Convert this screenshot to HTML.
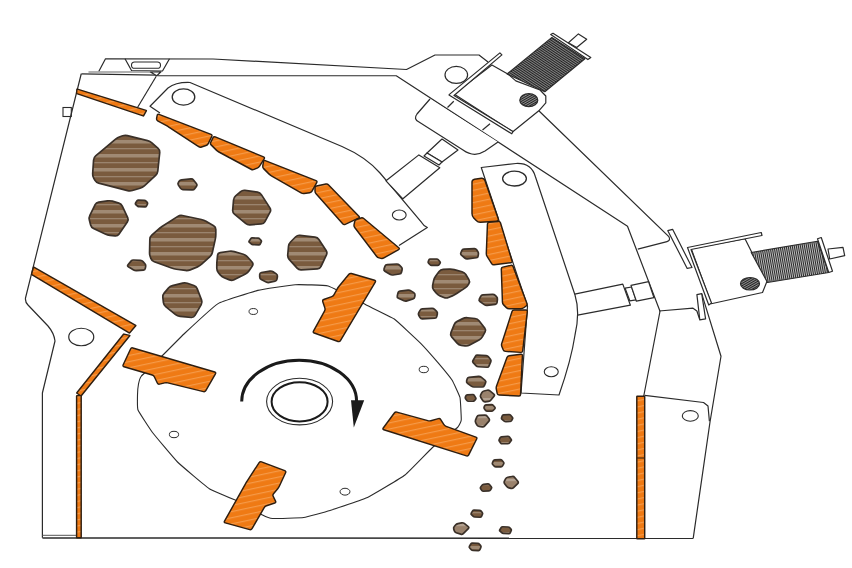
<!DOCTYPE html>
<html><head><meta charset="utf-8"><style>html,body{margin:0;padding:0;background:#fff;width:852px;height:568px;overflow:hidden;font-family:"Liberation Sans",sans-serif}svg{display:block}</style></head>
<body>
<svg width="852" height="568" viewBox="0 0 852 568">
<defs>
<pattern id="rock" patternUnits="userSpaceOnUse" width="40" height="14">
<rect width="40" height="14" fill="#7a5b3e"/>
<rect y="0" width="40" height="3.5" fill="#a08a74"/>
<rect y="8" width="40" height="1.3" fill="#9a846e"/>
</pattern>
<pattern id="rockl" patternUnits="userSpaceOnUse" width="40" height="9">
<rect width="40" height="9" fill="#9a826c"/>
<rect y="2" width="40" height="2.2" fill="#b3a190"/>
</pattern>
<pattern id="org" patternUnits="userSpaceOnUse" width="30" height="6" patternTransform="rotate(-12)">
<rect width="30" height="6" fill="#ef7a14"/>
<rect y="2" width="30" height="1.2" fill="#f59a48"/>
</pattern>
<pattern id="hatch" patternUnits="userSpaceOnUse" width="2" height="2" patternTransform="rotate(-30)">
<rect width="2" height="2" fill="#999"/><rect width="2" height="1.1" fill="#222"/>
</pattern>
<pattern id="thread" patternUnits="userSpaceOnUse" width="2" height="2" patternTransform="rotate(33.6)">
<rect width="2" height="2" fill="#9a9a9a"/><rect width="2" height="1.2" fill="#222"/>
</pattern>
<pattern id="thread2" patternUnits="userSpaceOnUse" width="2" height="2" patternTransform="rotate(80)">
<rect width="2" height="2" fill="#bbb"/><rect width="2" height="1" fill="#2a2a2a"/>
</pattern>
</defs>
<rect width="852" height="568" fill="#fff"/>
<polyline points="98.75,71.5 105.5,58.75 213,59 406.5,69.5 435,55 479,55 488,62" fill="none" stroke="#2b2b2b" stroke-width="1.2" stroke-linejoin="round"/>
<polyline points="125,58.75 131.5,70.5 162.5,71 169.5,58.75" fill="none" stroke="#2b2b2b" stroke-width="1.2" stroke-linejoin="round"/>
<rect x="131.5" y="62" width="29" height="6.3" rx="3.15" fill="none" stroke="#2b2b2b" stroke-width="1.1"/>
<polyline points="88.5,72 150.4,72" fill="none" stroke="#999" stroke-width="1.6" stroke-linejoin="round"/>
<polyline points="81.4,73.9 156.8,75.2" fill="none" stroke="#2b2b2b" stroke-width="1.2" stroke-linejoin="round"/>
<polygon points="150.4,72 161,71.8 156.8,75.7" fill="#fff" stroke="#2b2b2b" stroke-width="1.2" stroke-linejoin="round"/>
<polyline points="157.5,75.75 396.25,75.75 627.5,226.25 660,311.25 643.75,396" fill="none" stroke="#2b2b2b" stroke-width="1.2" stroke-linejoin="round"/>
<polyline points="156.25,76.25 137.5,107.5" fill="none" stroke="#2b2b2b" stroke-width="1.2" stroke-linejoin="round"/>
<rect x="63" y="107.5" width="8.3" height="9" fill="#fff" stroke="#2b2b2b" stroke-width="1.1"/>
<path d="M81.25,73.75 L25.5,298 Q25,302 28,305 L48,326 Q54,333 55,341 L42.4,393 L42.4,537.8 M693.2,538.3 L710,422 L721,356.25 L701.7,293.6" fill="none" stroke="#2b2b2b" stroke-width="1.2" stroke-linejoin="round"/>
<polyline points="42.4,535.3 76.6,535.3" fill="none" stroke="#555" stroke-width="1" stroke-linejoin="round"/>
<polyline points="42.4,538 693.2,538.3" fill="none" stroke="#2b2b2b" stroke-width="1.5" stroke-linejoin="round"/>
<ellipse cx="81.25" cy="337" rx="12.5" ry="8.75" fill="none" stroke="#2b2b2b" stroke-width="1.2"/>
<path d="M538.8,110.8 L668.8,236.5 Q671,240.5 667,241.6 L637.8,249.1" fill="none" stroke="#2b2b2b" stroke-width="1.2"/>
<polyline points="659,311 693,308.2 696.9,311 699.8,319.8" fill="none" stroke="#2b2b2b" stroke-width="1.2" stroke-linejoin="round"/>
<polyline points="644.7,395.3 703.5,402.5 708,406 709.4,421.2" fill="none" stroke="#2b2b2b" stroke-width="1.2" stroke-linejoin="round"/>
<ellipse cx="690.3" cy="415.9" rx="8" ry="5.3" fill="none" stroke="#2b2b2b" stroke-width="1.1"/>
<path d="M150,106.25 L168,88 Q176,82 190,82.5 L342,146.5 Q366,157 380,173 L421.8,222.7 Q423,225 427.3,227.6 L399,245.5 L362.5,217.5 L327.5,183.75 L265,157.5 L212.5,135 L160,113 Z" fill="#fff" stroke="none"/>
<path d="M160,113 L150,106.25 L168,88 Q176,82 190,82.5 L342,146.5 Q366,157 380,173 L421.8,222.7 Q423,225 427.3,227.6 L399,245.5" fill="none" stroke="#2b2b2b" stroke-width="1.2" stroke-linejoin="round"/>
<ellipse cx="183.5" cy="97" rx="11.3" ry="8.1" fill="none" stroke="#2b2b2b" stroke-width="1.3"/>
<ellipse cx="399.25" cy="215" rx="6.9" ry="5" fill="none" stroke="#2b2b2b" stroke-width="1.1"/>
<path d="M430,99 L417,114 Q413,119 419,122 L463,150 Q474,158 485,151 L498,142" fill="#fff" stroke="#2b2b2b" stroke-width="1.2"/>
<polygon points="427,153 442,139 458,150 442,162" fill="#fff" stroke="#2b2b2b" stroke-width="1.2" stroke-linejoin="round"/>
<polygon points="424,156 427,153 442,162 439,165" fill="#fff" stroke="#2b2b2b" stroke-width="1.2" stroke-linejoin="round"/>
<polygon points="418.9,154.9 439.8,167.8 402.9,198.8 386,180.8" fill="#fff" stroke="#2b2b2b" stroke-width="1.2" stroke-linejoin="round"/>
<path d="M481.25,167.5 L516,163.5 C526,163 533,168 535.5,177 L575,295 C579,308 578,322 575,335 C572,355 566,375 559,395 L521,393 L527.5,306.25 Z" fill="#fff" stroke="#2b2b2b" stroke-width="1.2" stroke-linejoin="round"/>
<ellipse cx="514.5" cy="178.6" rx="11.9" ry="7.4" fill="none" stroke="#2b2b2b" stroke-width="1.3"/>
<ellipse cx="551.25" cy="371.75" rx="7" ry="5" fill="none" stroke="#2b2b2b" stroke-width="1.1"/>
<polyline points="574.7,294.1 622.8,284.1 630.4,305.2 577.6,315.2" fill="none" stroke="#2b2b2b" stroke-width="1.2" stroke-linejoin="round"/>
<polygon points="625.1,288.2 631.6,287 636,299.8 629.8,300.8" fill="none" stroke="#2b2b2b" stroke-width="1.2" stroke-linejoin="round"/>
<polygon points="631,285.4 648.6,281.7 653.9,297.6 636.4,301.2" fill="#fff" stroke="#2b2b2b" stroke-width="1.2" stroke-linejoin="round"/>
<polyline points="447.5,107.5 453.75,101.25" fill="none" stroke="#2b2b2b" stroke-width="1.2" stroke-linejoin="round"/>
<polyline points="482.5,130 490,123.75" fill="none" stroke="#2b2b2b" stroke-width="1.2" stroke-linejoin="round"/>
<ellipse cx="456.3" cy="74.9" rx="11.3" ry="8.5" fill="none" stroke="#2b2b2b" stroke-width="1.2"/>
<polygon points="454,93.9 491.9,64.9 507.8,73.9 515.8,80.9 540,90 545.8,96 545.8,102.8 538.8,110.8 512.8,131.8" fill="#fff" stroke="#2b2b2b" stroke-width="1.2" stroke-linejoin="round"/>
<polygon points="450,93.9 499.9,52.9 501.9,54.9 454,95.5 513,131.5 511.8,133.8 449,94.9" fill="#fff" stroke="#2b2b2b" stroke-width="1.2" stroke-linejoin="round"/>
<ellipse cx="528.8" cy="100.2" rx="9" ry="6.5" fill="url(#hatch)" stroke="#2b2b2b" stroke-width="1.2"/>
<polygon points="507.1,74 551.9,37.4 584.9,58.7 544.8,91.7" fill="url(#thread)" stroke="#2b2b2b" stroke-width="1.2" stroke-linejoin="round"/>
<polygon points="550.7,34.5 553,33.3 590.8,57.5 587.9,59.6" fill="#fff" stroke="#2b2b2b" stroke-width="1.2" stroke-linejoin="round"/>
<polygon points="568.4,42.7 578.4,33.9 586.7,39.2 576.7,47.5" fill="#fff" stroke="#2b2b2b" stroke-width="1.2" stroke-linejoin="round"/>
<polygon points="667.8,230.7 672.6,229.3 692,267.5 687.2,268.4" fill="#fff" stroke="#2b2b2b" stroke-width="1.2" stroke-linejoin="round"/>
<polygon points="696.9,294.6 701.7,293.6 705.6,318.8 699.8,319.8" fill="#fff" stroke="#2b2b2b" stroke-width="1.2" stroke-linejoin="round"/>
<polygon points="691.25,248.75 745,238.75 752.5,253.75 765,272 767.5,280 762.5,292.5 711.25,303.75" fill="#fff" stroke="#2b2b2b" stroke-width="1.2" stroke-linejoin="round"/>
<polygon points="687.5,247.5 761.25,232.5 762,235.5 691,249.5 711.5,303 708.75,305" fill="#fff" stroke="#2b2b2b" stroke-width="1.2" stroke-linejoin="round"/>
<ellipse cx="750" cy="283.75" rx="9.5" ry="6.25" fill="url(#hatch)" stroke="#2b2b2b" stroke-width="1.2"/>
<polygon points="751.25,252.5 817.5,241.25 828.75,272.5 767.5,282.5" fill="url(#thread2)" stroke="#2b2b2b" stroke-width="1.2" stroke-linejoin="round"/>
<polygon points="817.5,238.75 821.25,237.5 832.5,271.25 828.75,272.5" fill="#fff" stroke="#2b2b2b" stroke-width="1.2" stroke-linejoin="round"/>
<polygon points="828,249 843,247.3 844.7,255.7 829.7,259" fill="#fff" stroke="#2b2b2b" stroke-width="1.2" stroke-linejoin="round"/>
<path d="M137.50,395.00 C137.53,393.70 138.31,384.94 138.50,384.00 C138.69,383.06 140.18,377.55 141.25,376.25 C142.32,374.95 157.81,360.16 160.00,358.00 C162.19,355.84 182.09,335.72 185.00,333.00 C187.91,330.28 214.46,305.73 218.10,303.60 C221.74,301.47 253.95,291.34 257.80,290.40 C261.66,289.45 291.68,284.92 295.20,284.70 C298.72,284.48 324.56,284.94 328.20,286.00 C331.83,287.06 364.59,304.15 367.90,305.80 C371.20,307.45 391.66,317.12 394.30,319.00 C396.94,320.88 418.50,341.10 420.70,343.30 C422.90,345.50 436.83,361.27 438.40,363.10 C439.96,364.94 450.92,378.28 452.00,380.00 C453.08,381.72 459.54,395.50 460.00,397.50 C460.46,399.50 461.38,418.50 461.25,420.00 C461.12,421.50 458.94,426.12 457.50,427.50 C456.06,428.88 435.12,445.12 432.50,447.50 C429.88,449.88 408.25,472.50 405.00,475.00 C401.75,477.50 371.25,495.73 367.50,497.50 C363.75,499.27 333.19,509.50 330.00,510.50 C326.81,511.50 306.62,517.10 303.75,517.50 C300.88,517.90 274.56,518.62 272.50,518.50 C270.44,518.38 263.90,515.72 262.50,515.00 C261.10,514.28 247.16,505.42 244.50,504.10 C241.84,502.79 212.65,490.81 209.30,488.70 C205.95,486.59 180.34,464.81 177.50,462.00 C174.66,459.19 154.47,435.10 152.50,432.50 C150.53,429.90 138.75,411.88 138.00,410.00 C137.25,408.12 137.47,396.30 137.50,395.00 Z" fill="#fff" stroke="#2b2b2b" stroke-width="1.1"/>
<ellipse cx="253.3" cy="311.5" rx="4.255" ry="2.9600000000000004" fill="none" stroke="#2b2b2b" stroke-width="1"/>
<ellipse cx="174" cy="434.5" rx="4.6" ry="3.2" fill="none" stroke="#2b2b2b" stroke-width="1"/>
<ellipse cx="345" cy="491.7" rx="4.944999999999999" ry="3.44" fill="none" stroke="#2b2b2b" stroke-width="1"/>
<ellipse cx="423.8" cy="369.5" rx="4.6" ry="3.2" fill="none" stroke="#2b2b2b" stroke-width="1"/>
<ellipse cx="299.6" cy="401.6" rx="33" ry="23.3" fill="none" stroke="#2b2b2b" stroke-width="1.1"/>
<ellipse cx="299.6" cy="401.8" rx="28" ry="19.6" fill="none" stroke="#1a1a1a" stroke-width="2"/>
<path d="M241.7,401.5 A57.45,41.3 0 0 1 356.6,401.5" fill="none" stroke="#1a1a1a" stroke-width="3"/>
<polygon points="351,400.3 364.2,400.3 353.8,427.6" fill="#1a1a1a"/>
<path d="M77.38,89.12 L146.12,110.38 Q146.50,110.50 146.31,110.85 L143.69,115.65 Q143.50,116.00 143.12,115.87 L76.88,93.63 Q76.50,93.50 76.54,93.10 L76.96,89.40 Q77.00,89.00 77.38,89.12 Z" fill="url(#org)" stroke="#2e1e10" stroke-width="1.45"/>
<path d="M33.85,267.20 L135.65,325.30 Q136.00,325.50 135.74,325.80 L129.76,332.70 Q129.50,333.00 129.16,332.79 L31.84,274.71 Q31.50,274.50 31.60,274.11 L33.40,267.39 Q33.50,267.00 33.85,267.20 Z" fill="url(#org)" stroke="#2e1e10" stroke-width="1.45"/>
<path d="M124.14,334.09 L129.61,335.41 Q130.00,335.50 129.75,335.81 L81.25,395.69 Q81.00,396.00 80.67,395.77 L76.93,393.23 Q76.60,393.00 76.85,392.69 L123.50,334.31 Q123.75,334.00 124.14,334.09 Z" fill="url(#org)" stroke="#2e1e10" stroke-width="1.45"/>
<path d="M77.00,395.60 L80.80,395.60 Q81.20,395.60 81.20,396.00 L81.20,537.40 Q81.20,537.80 80.80,537.80 L77.00,537.80 Q76.60,537.80 76.60,537.40 L76.60,396.00 Q76.60,395.60 77.00,395.60 Z" fill="url(#org)" stroke="#2e1e10" stroke-width="1.45"/>
<path d="M637.20,396.20 L644.30,396.20 Q644.70,396.20 644.70,396.60 L644.70,538.40 Q644.70,538.80 644.30,538.80 L637.20,538.80 Q636.80,538.80 636.80,538.40 L636.80,396.60 Q636.80,396.20 637.20,396.20 Z" fill="url(#org)" stroke="#2e1e10" stroke-width="1.45"/>
<path d="M158.99,114.33 L211.01,134.42 Q212.50,135.00 211.78,136.43 L208.22,143.57 Q207.50,145.00 205.98,145.51 L201.52,146.99 Q200.00,147.50 198.66,146.62 L168.84,127.13 Q167.50,126.25 166.10,125.47 L157.65,120.78 Q156.25,120.00 156.56,118.43 L157.19,115.32 Q157.50,113.75 158.99,114.33 Z" fill="url(#org)" stroke="#2e1e10" stroke-width="1.45"/>
<path d="M215.23,136.86 L263.52,156.89 Q265.00,157.50 264.15,158.86 L259.60,166.14 Q258.75,167.50 257.26,168.09 L253.99,169.41 Q252.50,170.00 251.09,169.24 L218.91,152.01 Q217.50,151.25 216.37,150.12 L211.13,144.88 Q210.00,143.75 210.72,142.32 L213.03,137.68 Q213.75,136.25 215.23,136.86 Z" fill="url(#org)" stroke="#2e1e10" stroke-width="1.45"/>
<path d="M265.24,160.59 L316.01,180.66 Q317.50,181.25 316.72,182.65 L312.03,191.10 Q311.25,192.50 309.67,192.73 L304.08,193.52 Q302.50,193.75 301.11,192.95 L271.39,175.80 Q270.00,175.00 268.87,173.87 L263.63,168.63 Q262.50,167.50 262.76,165.92 L263.49,161.58 Q263.75,160.00 265.24,160.59 Z" fill="url(#org)" stroke="#2e1e10" stroke-width="1.45"/>
<path d="M316.57,185.94 L325.93,184.06 Q327.50,183.75 328.61,184.90 L358.89,216.35 Q360.00,217.50 358.55,218.17 L345.20,224.33 Q343.75,225.00 342.69,223.80 L316.06,193.70 Q315.00,192.50 315.00,190.90 L315.00,187.85 Q315.00,186.25 316.57,185.94 Z" fill="url(#org)" stroke="#2e1e10" stroke-width="1.45"/>
<path d="M356.52,219.49 L360.98,218.01 Q362.50,217.50 363.73,218.52 L398.77,247.73 Q400.00,248.75 398.61,249.54 L383.89,257.96 Q382.50,258.75 380.95,258.36 L379.05,257.89 Q377.50,257.50 376.53,256.23 L354.72,227.52 Q353.75,226.25 354.06,224.68 L354.69,221.57 Q355.00,220.00 356.52,219.49 Z" fill="url(#org)" stroke="#2e1e10" stroke-width="1.45"/>
<path d="M474.58,179.16 L481.42,178.24 Q484.00,177.90 484.85,180.36 L498.15,218.54 Q499.00,221.00 496.41,221.19 L480.59,222.31 Q478.00,222.50 476.24,220.59 L473.76,217.91 Q472.00,216.00 472.00,213.40 L472.00,182.10 Q472.00,179.50 474.58,179.16 Z" fill="url(#org)" stroke="#2e1e10" stroke-width="1.45"/>
<path d="M489.09,222.34 L498.41,221.41 Q500.00,221.25 500.46,222.78 L512.04,260.97 Q512.50,262.50 510.91,262.70 L494.09,264.80 Q492.50,265.00 491.65,263.64 L487.10,256.36 Q486.25,255.00 486.31,253.40 L487.44,224.10 Q487.50,222.50 489.09,222.34 Z" fill="url(#org)" stroke="#2e1e10" stroke-width="1.45"/>
<path d="M502.81,267.15 L510.94,265.35 Q512.50,265.00 513.06,266.50 L526.94,303.50 Q527.50,305.00 526.22,305.96 L523.78,307.79 Q522.50,308.75 520.90,308.75 L509.10,308.75 Q507.50,308.75 506.37,307.62 L503.63,304.88 Q502.50,303.75 502.44,302.15 L501.31,269.10 Q501.25,267.50 502.81,267.15 Z" fill="url(#org)" stroke="#2e1e10" stroke-width="1.45"/>
<path d="M514.10,310.00 L525.90,310.00 Q527.50,310.00 527.31,311.59 L522.69,350.91 Q522.50,352.50 520.90,352.39 L505.35,351.36 Q503.75,351.25 503.16,349.76 L501.84,346.49 Q501.25,345.00 501.74,343.48 L512.01,311.52 Q512.50,310.00 514.10,310.00 Z" fill="url(#org)" stroke="#2e1e10" stroke-width="1.45"/>
<path d="M509.09,355.79 L520.91,354.21 Q522.50,354.00 522.42,355.60 L520.58,394.40 Q520.50,396.00 518.90,395.93 L499.10,395.07 Q497.50,395.00 497.19,393.43 L496.31,389.07 Q496.00,387.50 496.55,386.00 L506.95,357.50 Q507.50,356.00 509.09,355.79 Z" fill="url(#org)" stroke="#2e1e10" stroke-width="1.45"/>
<path d="M351.44,273.55 L374.56,280.25 Q376.10,280.70 375.28,282.07 L340.42,340.63 Q339.60,342.00 338.09,341.47 L314.21,333.03 Q312.70,332.50 313.47,331.10 L324.63,310.90 Q325.40,309.50 324.89,307.98 L322.71,301.52 Q322.20,300.00 323.71,299.47 L331.79,296.63 Q333.30,296.10 334.06,294.69 L337.24,288.81 Q338.00,287.40 339.02,286.17 L348.88,274.33 Q349.90,273.10 351.44,273.55 Z" fill="url(#org)" stroke="#2e1e10" stroke-width="1.45"/>
<path d="M132.78,347.95 L214.72,372.05 Q216.25,372.50 215.45,373.89 L205.80,390.61 Q205.00,392.00 203.45,391.62 L167.80,382.88 Q166.25,382.50 164.70,382.88 L159.55,384.12 Q158.00,384.50 157.32,383.05 L154.43,376.95 Q153.75,375.50 152.22,375.05 L124.03,366.70 Q122.50,366.25 123.18,364.80 L130.57,348.95 Q131.25,347.50 132.78,347.95 Z" fill="url(#org)" stroke="#2e1e10" stroke-width="1.45"/>
<path d="M383.25,428.01 L394.35,412.99 Q395.30,411.70 396.84,412.13 L427.76,420.67 Q429.30,421.10 430.84,420.68 L438.36,418.62 Q439.90,418.20 440.74,419.56 L443.76,424.44 Q444.60,425.80 446.11,426.34 L475.89,437.06 Q477.40,437.60 476.68,439.03 L468.72,454.87 Q468.00,456.30 466.47,455.82 L383.83,429.78 Q382.30,429.30 383.25,428.01 Z" fill="url(#org)" stroke="#2e1e10" stroke-width="1.45"/>
<path d="M261.50,461.82 L284.75,470.68 Q286.25,471.25 285.58,472.70 L279.42,486.05 Q278.75,487.50 277.73,488.73 L273.52,493.77 Q272.50,495.00 273.22,496.43 L275.53,501.07 Q276.25,502.50 274.73,503.01 L266.52,505.74 Q265.00,506.25 264.20,507.63 L252.05,528.62 Q251.25,530.00 249.71,529.58 L225.29,522.92 Q223.75,522.50 224.53,521.11 L245.47,483.89 Q246.25,482.50 247.12,481.16 L259.13,462.59 Q260.00,461.25 261.50,461.82 Z" fill="url(#org)" stroke="#2e1e10" stroke-width="1.45"/>
<line x1="636.8" y1="458" x2="644.7" y2="458" stroke="#3a2410" stroke-width="1.1"/>
<path d="M119.87,136.71 L122.63,135.79 Q125.00,135.00 127.43,135.61 L147.57,140.64 Q150.00,141.25 151.88,142.90 L158.12,148.35 Q160.00,150.00 159.74,152.49 L157.76,171.26 Q157.50,173.75 155.66,175.44 L144.34,185.81 Q142.50,187.50 140.11,188.22 L132.39,190.53 Q130.00,191.25 127.58,190.62 L98.67,183.13 Q96.25,182.50 94.96,180.36 L93.79,178.39 Q92.50,176.25 92.67,173.76 L93.58,159.99 Q93.75,157.50 95.66,155.89 L115.59,139.11 Q117.50,137.50 119.87,136.71 Z" fill="url(#rock)" stroke="#3a3028" stroke-width="1.7"/>
<path d="M181.60,179.84 L190.90,178.91 Q192.50,178.75 193.50,180.00 L196.50,183.75 Q197.50,185.00 196.54,186.29 L194.71,188.71 Q193.75,190.00 192.14,189.94 L182.86,189.56 Q181.25,189.50 180.37,188.15 L178.38,185.10 Q177.50,183.75 178.39,182.41 L179.11,181.34 Q180.00,180.00 181.60,179.84 Z" fill="url(#rock)" stroke="#3a3028" stroke-width="1.7"/>
<path d="M138.58,200.05 L144.32,200.30 Q145.32,200.35 146.00,201.09 L147.22,202.41 Q147.90,203.15 147.45,204.04 L146.41,206.11 Q145.97,207.00 144.97,206.95 L139.22,206.70 Q138.22,206.65 137.47,205.99 L135.76,204.51 Q135.00,203.85 135.56,203.02 L137.02,200.83 Q137.58,200.00 138.58,200.05 Z" fill="url(#rock)" stroke="#3a3028" stroke-width="1.7"/>
<path d="M98.72,202.14 L107.53,200.86 Q110.00,200.50 112.40,201.19 L118.85,203.06 Q121.25,203.75 122.30,206.02 L127.70,217.73 Q128.75,220.00 127.33,222.06 L118.92,234.19 Q117.50,236.25 115.02,235.94 L109.98,235.31 Q107.50,235.00 105.23,233.95 L93.52,228.55 Q91.25,227.50 90.64,225.07 L89.36,219.93 Q88.75,217.50 89.87,215.26 L95.13,204.74 Q96.25,202.50 98.72,202.14 Z" fill="url(#rock)" stroke="#3a3028" stroke-width="1.7"/>
<path d="M182.35,215.51 L201.35,219.49 Q203.80,220.00 205.97,221.25 L213.63,225.65 Q215.80,226.90 215.80,229.40 L215.80,234.40 Q215.80,236.90 215.26,239.34 L212.34,252.46 Q211.80,254.90 209.96,256.59 L201.64,264.21 Q199.80,265.90 197.49,266.85 L190.21,269.85 Q187.90,270.80 185.42,270.46 L176.38,269.24 Q173.90,268.90 171.55,268.05 L154.25,261.75 Q151.90,260.90 150.97,258.58 L150.43,257.22 Q149.50,254.90 149.56,252.40 L149.84,239.40 Q149.90,236.90 151.76,235.23 L158.04,229.57 Q159.90,227.90 162.00,226.54 L177.80,216.36 Q179.90,215.00 182.35,215.51 Z" fill="url(#rock)" stroke="#3a3028" stroke-width="1.7"/>
<path d="M244.97,190.35 L257.53,192.15 Q260.00,192.50 261.35,194.60 L269.90,207.90 Q271.25,210.00 270.05,212.19 L264.95,221.56 Q263.75,223.75 261.26,223.94 L249.99,224.81 Q247.50,225.00 245.58,223.40 L234.42,214.10 Q232.50,212.50 232.71,210.01 L233.54,199.99 Q233.75,197.50 235.65,195.87 L240.60,191.63 Q242.50,190.00 244.97,190.35 Z" fill="url(#rock)" stroke="#3a3028" stroke-width="1.7"/>
<path d="M252.30,237.94 L258.10,238.21 Q259.10,238.25 259.78,238.98 L261.02,240.32 Q261.70,241.05 261.25,241.94 L260.20,244.01 Q259.75,244.90 258.75,244.86 L252.95,244.59 Q251.95,244.55 251.19,243.90 L249.46,242.40 Q248.70,241.75 249.26,240.92 L250.74,238.73 Q251.30,237.90 252.30,237.94 Z" fill="url(#rock)" stroke="#3a3028" stroke-width="1.7"/>
<path d="M172.43,285.64 L182.57,283.11 Q185.00,282.50 187.37,283.29 L193.88,285.46 Q196.25,286.25 197.15,288.58 L201.60,300.17 Q202.50,302.50 201.24,304.66 L195.01,315.34 Q193.75,317.50 191.26,317.31 L179.99,316.44 Q177.50,316.25 175.57,314.67 L165.68,306.58 Q163.75,305.00 163.44,302.52 L162.81,297.48 Q162.50,295.00 164.13,293.10 L168.37,288.15 Q170.00,286.25 172.43,285.64 Z" fill="url(#rock)" stroke="#3a3028" stroke-width="1.7"/>
<path d="M133.55,259.99 L140.45,260.41 Q142.00,260.50 143.05,261.65 L144.95,263.75 Q146.00,264.90 145.69,266.43 L145.31,268.37 Q145.00,269.90 143.45,270.04 L136.55,270.66 Q135.00,270.80 133.67,269.99 L128.33,266.71 Q127.00,265.90 128.00,264.70 L131.00,261.10 Q132.00,259.90 133.55,259.99 Z" fill="url(#rock)" stroke="#3a3028" stroke-width="1.7"/>
<path d="M220.27,252.55 L229.33,251.25 Q231.80,250.90 234.20,251.59 L243.30,254.21 Q245.70,254.90 247.36,256.77 L252.04,262.03 Q253.70,263.90 252.30,265.97 L249.10,270.73 Q247.70,272.80 245.47,273.92 L234.03,279.68 Q231.80,280.80 229.48,279.87 L224.12,277.73 Q221.80,276.80 220.20,274.88 L218.40,272.72 Q216.80,270.80 216.80,268.30 L216.80,265.40 Q216.80,262.90 217.05,260.41 L217.55,255.39 Q217.80,252.90 220.27,252.55 Z" fill="url(#rock)" stroke="#3a3028" stroke-width="1.7"/>
<path d="M299.98,235.31 L315.02,237.19 Q317.50,237.50 318.89,239.58 L326.11,250.42 Q327.50,252.50 326.45,254.77 L321.05,266.48 Q320.00,268.75 317.50,268.90 L301.25,269.85 Q298.75,270.00 297.08,268.14 L289.17,259.36 Q287.50,257.50 287.73,255.01 L288.52,246.24 Q288.75,243.75 290.52,241.98 L295.73,236.77 Q297.50,235.00 299.98,235.31 Z" fill="url(#rock)" stroke="#3a3028" stroke-width="1.7"/>
<path d="M261.39,272.52 L270.01,271.08 Q271.70,270.80 273.13,271.75 L276.27,273.85 Q277.70,274.80 277.42,276.49 L276.98,279.11 Q276.70,280.80 275.03,281.17 L269.37,282.43 Q267.70,282.80 266.17,282.03 L261.23,279.57 Q259.70,278.80 259.70,277.09 L259.70,274.51 Q259.70,272.80 261.39,272.52 Z" fill="url(#rock)" stroke="#3a3028" stroke-width="1.7"/>
<path d="M387.21,264.51 L396.69,263.99 Q398.30,263.90 399.43,265.05 L401.37,267.05 Q402.50,268.20 402.11,269.77 L401.49,272.23 Q401.10,273.80 399.50,274.03 L392.90,274.97 Q391.30,275.20 389.93,274.34 L384.87,271.16 Q383.50,270.30 384.06,268.79 L385.04,266.11 Q385.60,264.60 387.21,264.51 Z" fill="url(#rock)" stroke="#3a3028" stroke-width="1.7"/>
<path d="M430.21,259.00 L436.79,259.00 Q437.70,259.00 438.28,259.70 L440.02,261.80 Q440.60,262.50 440.06,263.24 L439.04,264.66 Q438.50,265.40 437.59,265.40 L431.61,265.40 Q430.70,265.40 430.06,264.74 L428.54,263.16 Q427.90,262.50 428.24,261.65 L428.96,259.85 Q429.30,259.00 430.21,259.00 Z" fill="url(#rock)" stroke="#3a3028" stroke-width="1.7"/>
<path d="M463.90,249.12 L474.30,248.58 Q475.80,248.50 476.63,249.75 L477.77,251.45 Q478.60,252.70 478.39,254.18 L478.11,256.12 Q477.90,257.60 476.41,257.77 L467.39,258.83 Q465.90,259.00 464.77,258.01 L461.43,255.09 Q460.30,254.10 460.89,252.72 L461.81,250.58 Q462.40,249.20 463.90,249.12 Z" fill="url(#rock)" stroke="#3a3028" stroke-width="1.7"/>
<path d="M443.10,269.44 L449.30,269.06 Q451.80,268.90 454.21,269.56 L462.09,271.74 Q464.50,272.40 465.81,274.53 L468.79,279.37 Q470.10,281.50 468.88,283.68 L468.52,284.32 Q467.30,286.50 465.21,287.88 L456.69,293.52 Q454.60,294.90 452.30,295.88 L448.50,297.52 Q446.20,298.50 443.90,297.53 L440.00,295.87 Q437.70,294.90 436.14,292.95 L433.66,289.85 Q432.10,287.90 432.62,285.45 L433.68,280.45 Q434.20,278.00 435.72,276.01 L439.08,271.59 Q440.60,269.60 443.10,269.44 Z" fill="url(#rock)" stroke="#3a3028" stroke-width="1.7"/>
<path d="M399.90,291.20 L408.00,290.20 Q409.60,290.00 410.97,290.86 L413.83,292.64 Q415.20,293.50 414.98,295.10 L414.72,296.90 Q414.50,298.50 412.96,298.97 L406.94,300.83 Q405.40,301.30 403.91,300.67 L398.39,298.33 Q396.90,297.70 397.25,296.12 L397.95,292.98 Q398.30,291.40 399.90,291.20 Z" fill="url(#rock)" stroke="#3a3028" stroke-width="1.7"/>
<path d="M483.01,294.81 L492.49,294.29 Q494.10,294.20 495.24,295.34 L496.46,296.56 Q497.60,297.70 497.42,299.30 L497.08,302.50 Q496.90,304.10 495.30,304.30 L487.20,305.30 Q485.60,305.50 484.28,304.57 L479.92,301.53 Q478.60,300.60 479.31,299.15 L480.69,296.35 Q481.40,294.90 483.01,294.81 Z" fill="url(#rock)" stroke="#3a3028" stroke-width="1.7"/>
<path d="M422.31,308.92 L431.99,308.38 Q433.50,308.30 434.57,309.37 L436.63,311.43 Q437.70,312.50 437.34,313.97 L436.66,316.73 Q436.30,318.20 434.79,318.27 L422.31,318.83 Q420.80,318.90 420.06,317.58 L418.74,315.22 Q418.00,313.90 418.75,312.59 L420.05,310.31 Q420.80,309.00 422.31,308.92 Z" fill="url(#rock)" stroke="#3a3028" stroke-width="1.7"/>
<path d="M457.24,321.38 L462.76,318.62 Q465.00,317.50 467.49,317.75 L475.01,318.50 Q477.50,318.75 479.03,320.72 L484.72,328.03 Q486.25,330.00 485.01,332.17 L482.49,336.58 Q481.25,338.75 479.06,339.95 L469.69,345.05 Q467.50,346.25 465.03,345.90 L461.22,345.35 Q458.75,345.00 457.10,343.12 L451.65,336.88 Q450.00,335.00 450.93,332.68 L454.07,324.82 Q455.00,322.50 457.24,321.38 Z" fill="url(#rock)" stroke="#3a3028" stroke-width="1.7"/>
<path d="M477.30,355.06 L486.30,355.55 Q487.50,355.62 488.23,356.56 L490.57,359.59 Q491.30,360.54 490.83,361.64 L488.92,366.19 Q488.45,367.30 487.25,367.24 L478.25,366.75 Q477.05,366.69 476.22,365.82 L473.13,362.63 Q472.30,361.76 472.89,360.72 L475.51,356.05 Q476.10,355.00 477.30,355.06 Z" fill="url(#rock)" stroke="#3a3028" stroke-width="1.7"/>
<path d="M468.99,377.35 L478.51,376.40 Q480.00,376.25 481.17,377.19 L485.08,380.31 Q486.25,381.25 485.65,382.63 L484.35,385.62 Q483.75,387.00 482.25,387.00 L474.00,387.00 Q472.50,387.00 471.28,386.12 L467.47,383.38 Q466.25,382.50 466.61,381.04 L467.14,378.96 Q467.50,377.50 468.99,377.35 Z" fill="url(#rock)" stroke="#3a3028" stroke-width="1.7"/>
<path d="M467.21,394.94 L472.79,394.56 Q473.75,394.50 474.24,395.33 L475.76,397.92 Q476.25,398.75 475.57,399.43 L474.43,400.57 Q473.75,401.25 472.79,401.25 L468.46,401.25 Q467.50,401.25 466.91,400.49 L465.59,398.76 Q465.00,398.00 465.37,397.11 L465.88,395.89 Q466.25,395.00 467.21,394.94 Z" fill="url(#rock)" stroke="#3a3028" stroke-width="1.7"/>
<path d="M483.97,390.96 L487.28,390.29 Q488.75,390.00 489.92,390.94 L493.83,394.06 Q495.00,395.00 494.06,396.17 L490.94,400.08 Q490.00,401.25 488.51,401.43 L485.24,401.82 Q483.75,402.00 482.93,400.74 L480.82,397.51 Q480.00,396.25 480.67,394.91 L481.83,392.59 Q482.50,391.25 483.97,390.96 Z" fill="url(#rockl)" stroke="#3a3028" stroke-width="1.7"/>
<path d="M485.96,404.94 L491.54,404.56 Q492.50,404.50 493.13,405.23 L494.87,407.27 Q495.50,408.00 494.85,408.71 L493.15,410.54 Q492.50,411.25 491.54,411.25 L487.21,411.25 Q486.25,411.25 485.66,410.49 L484.34,408.76 Q483.75,408.00 484.12,407.11 L484.63,405.89 Q485.00,405.00 485.96,404.94 Z" fill="url(#rock)" stroke="#3a3028" stroke-width="1.7"/>
<path d="M479.00,415.41 L484.75,415.09 Q486.25,415.00 487.15,416.20 L489.10,418.80 Q490.00,420.00 489.00,421.12 L484.75,425.88 Q483.75,427.00 482.26,426.82 L478.99,426.43 Q477.50,426.25 476.83,424.91 L475.67,422.59 Q475.00,421.25 475.60,419.87 L476.90,416.88 Q477.50,415.50 479.00,415.41 Z" fill="url(#rockl)" stroke="#3a3028" stroke-width="1.7"/>
<path d="M503.53,414.93 L508.97,414.57 Q510.00,414.50 510.67,415.29 L512.33,417.21 Q513.00,418.00 512.51,418.91 L511.74,420.34 Q511.25,421.25 510.22,421.33 L506.03,421.67 Q505.00,421.75 504.19,421.10 L502.06,419.40 Q501.25,418.75 501.58,417.77 L502.17,415.98 Q502.50,415.00 503.53,414.93 Z" fill="url(#rock)" stroke="#3a3028" stroke-width="1.7"/>
<path d="M501.57,436.90 L507.68,436.35 Q508.75,436.25 509.42,437.09 L511.08,439.16 Q511.75,440.00 511.08,440.84 L509.42,442.91 Q508.75,443.75 507.68,443.75 L502.32,443.75 Q501.25,443.75 500.60,442.90 L499.40,441.35 Q498.75,440.50 499.23,439.54 L500.02,437.96 Q500.50,437.00 501.57,436.90 Z" fill="url(#rock)" stroke="#3a3028" stroke-width="1.7"/>
<path d="M494.82,459.93 L500.18,459.57 Q501.25,459.50 501.95,460.31 L503.55,462.19 Q504.25,463.00 503.70,463.92 L502.55,465.83 Q502.00,466.75 500.93,466.79 L496.07,466.96 Q495.00,467.00 494.27,466.21 L492.73,464.54 Q492.00,463.75 492.45,462.78 L493.30,460.97 Q493.75,460.00 494.82,459.93 Z" fill="url(#rock)" stroke="#3a3028" stroke-width="1.7"/>
<path d="M507.73,477.25 L512.27,476.50 Q513.75,476.25 514.69,477.42 L517.81,481.33 Q518.75,482.50 517.69,483.56 L513.56,487.69 Q512.50,488.75 511.04,488.39 L508.96,487.86 Q507.50,487.50 506.60,486.30 L504.65,483.70 Q503.75,482.50 504.42,481.16 L505.58,478.84 Q506.25,477.50 507.73,477.25 Z" fill="url(#rockl)" stroke="#3a3028" stroke-width="1.7"/>
<path d="M483.56,484.37 L487.69,483.88 Q488.75,483.75 489.45,484.56 L491.30,486.69 Q492.00,487.50 491.44,488.41 L490.56,489.84 Q490.00,490.75 488.93,490.82 L483.57,491.18 Q482.50,491.25 481.85,490.40 L480.65,488.85 Q480.00,488.00 480.62,487.13 L481.88,485.37 Q482.50,484.50 483.56,484.37 Z" fill="url(#rock)" stroke="#3a3028" stroke-width="1.7"/>
<path d="M474.18,510.05 L479.42,510.31 Q480.46,510.37 481.13,511.17 L482.23,512.48 Q482.90,513.28 482.47,514.23 L481.50,516.35 Q481.07,517.30 480.03,517.25 L474.79,516.99 Q473.75,516.93 473.00,516.21 L471.45,514.74 Q470.70,514.01 471.24,513.12 L472.60,510.89 Q473.14,510.00 474.18,510.05 Z" fill="url(#rock)" stroke="#3a3028" stroke-width="1.7"/>
<path d="M457.97,523.59 L461.63,522.81 Q463.10,522.50 464.27,523.44 L468.23,526.66 Q469.40,527.60 468.32,528.65 L463.28,533.55 Q462.20,534.60 460.77,534.16 L456.13,532.74 Q454.70,532.30 454.27,530.86 L453.73,529.04 Q453.30,527.60 454.28,526.47 L455.52,525.03 Q456.50,523.90 457.97,523.59 Z" fill="url(#rockl)" stroke="#3a3028" stroke-width="1.7"/>
<path d="M502.76,526.75 L508.14,527.00 Q509.14,527.05 509.80,527.80 L510.94,529.10 Q511.60,529.85 511.17,530.75 L510.19,532.80 Q509.75,533.70 508.76,533.65 L503.37,533.40 Q502.38,533.35 501.64,532.68 L500.04,531.22 Q499.30,530.55 499.84,529.71 L501.22,527.54 Q501.76,526.70 502.76,526.75 Z" fill="url(#rock)" stroke="#3a3028" stroke-width="1.7"/>
<path d="M472.48,543.06 L477.72,543.33 Q478.82,543.38 479.51,544.24 L480.61,545.61 Q481.30,546.47 480.86,547.47 L479.88,549.69 Q479.44,550.70 478.34,550.64 L473.10,550.37 Q472.00,550.32 471.22,549.54 L469.68,548.01 Q468.90,547.24 469.46,546.29 L470.82,543.95 Q471.38,543.00 472.48,543.06 Z" fill="url(#rock)" stroke="#3a3028" stroke-width="1.7"/>
</svg>
</body></html>
